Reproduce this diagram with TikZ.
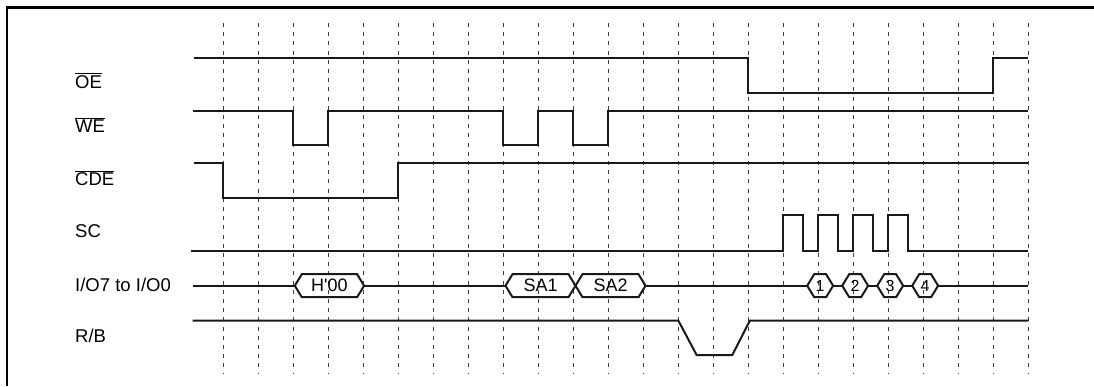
\documentclass[tikz,border=0pt]{standalone}
\usepackage{fontspec}
\setmainfont{Liberation Sans}

% hexagon on the data bus: name, left point, right point, font size, text
\newcommand{\busval}[5]{%
  \draw[sig] (#2,285.7) -- ({#2+0.2},274.2) -- ({#3-0.2},274.2) -- (#3,285.7)
    -- ({#3-0.2},297.2) -- ({#2+0.2},297.2) -- cycle;
  \node[val, font=\fontsize{#4}{#4}\selectfont] (#1) at ({(#2+#3)/2},285.7) {#5};}

\begin{document}
\begin{tikzpicture}[
    x=35pt, y=-1pt, shift={(223.4pt,0pt)},
    sig/.style={line width=2pt, color=black!90},
    gridline/.style={line width=1pt, color=black!75, dash pattern=on 4pt off 5.2pt},
    frame/.style={line width=2.4pt},
    lbl/.style={anchor=base west, inner sep=0pt, font=\fontsize{18.5}{20}\selectfont},
    val/.style={inner sep=0pt, anchor=center}
]
\useasboundingbox (-6.383,0) rectangle (24.874,386);
\draw[frame] (24.874,7.3) -- (-6.19,7.3) -- (-6.19,386);

% time grid
\foreach \k in {0,...,23}
  \draw[gridline] (\k,23) -- (\k,372.7);

% signal names
\node[lbl] (oe) at (-4.24,88) {$\overline{\mbox{OE}}$};
\node[lbl] (we) at (-4.24,132.5) {$\overline{\mbox{WE}}$};
\node[lbl] (cde) at (-4.24,185.5) {$\overline{\mbox{CDE}}$};
\node[lbl] (sc) at (-4.24,237) {SC};
\node[lbl] (io) at (-4.24,291.7) {I/O7 to I/O0};
\node[lbl] (rb) at (-4.24,342) {R/B};

% waveforms
\draw[sig] (-0.83,58.3) -- (15,58.3) -- (15,92.7) -- (22,92.7) -- (22,58.3) -- (23,58.3);
\draw[sig] (-0.88,110.7) -- (2,110.7) -- (2,145) -- (3,145) -- (3,110.7)
  -- (8,110.7) -- (8,145) -- (9,145) -- (9,110.7)
  -- (10,110.7) -- (10,145) -- (11,145) -- (11,110.7) -- (23,110.7);
\draw[sig] (-0.83,162.7) -- (0,162.7) -- (0,198.3) -- (5,198.3) -- (5,162.7) -- (23,162.7);
\draw[sig] (-0.93,250.7)
  foreach \k in {16,...,19} { -- (\k,250.7) -- (\k,215) -- ({\k+0.55},215) -- ({\k+0.55},250.7) }
  -- (23,250.7);
\draw[sig] (-0.88,285.7) -- (2.04,285.7) (4.02,285.7) -- (8.06,285.7)
  (12.06,285.7) -- (16.68,285.7) (17.42,285.7) -- (17.68,285.7)
  (18.42,285.7) -- (18.68,285.7) (19.42,285.7) -- (19.68,285.7)
  (20.42,285.7) -- (23,285.7);
\draw[sig] (-0.88,320.7) -- (13,320.7) -- (13.52,355) -- (14.54,355) -- (15.04,320.7) -- (23,320.7);

% bus values
\busval{h00}{2.04}{4.02}{18}{H\textquotesingle 00}
\busval{sa1}{8.06}{10.06}{18}{SA1}
\busval{sa2}{10.06}{12.06}{18}{SA2}
\busval{d1}{16.68}{17.42}{16}{1}
\busval{d2}{17.68}{18.42}{16}{2}
\busval{d3}{18.68}{19.42}{16}{3}
\busval{d4}{19.68}{20.42}{16}{4}
\end{tikzpicture}
\end{document}
